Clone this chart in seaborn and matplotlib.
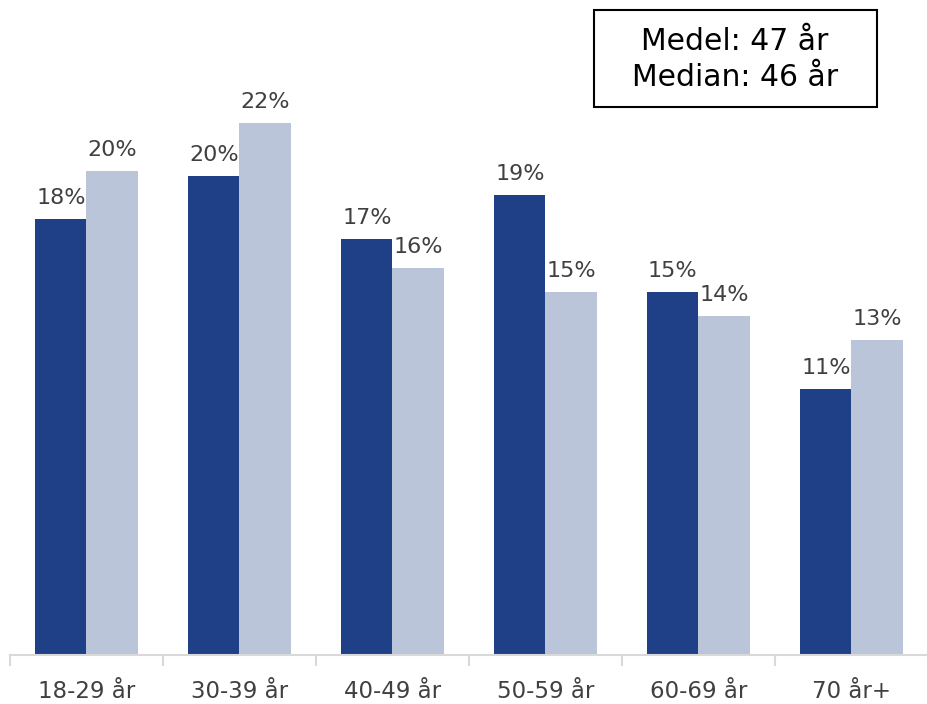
import matplotlib
matplotlib.use("Agg")
import matplotlib.pyplot as plt
from matplotlib.patches import Rectangle
import pandas as pd
import seaborn as sns

# Data
age_groups = ["18-29 år", "30-39 år", "40-49 år", "50-59 år", "60-69 år", "70 år+"]
series_a = [18, 19.8, 17.2, 19, 15, 11]
series_b = [20, 22, 16, 15, 14, 13]
series_names = ["A", "B"]
box_lines = ["Medel: 47 år", "Median: 46 år"]

df = pd.DataFrame({
    "age": age_groups * 2,
    "share": series_a + series_b,
    "series": [series_names[0]] * len(age_groups) + [series_names[1]] * len(age_groups),
})

sns.set_style("white")
plt.rcParams["font.family"] = ["DejaVu Sans"]

text_col = "#404040"
fig = plt.figure(figsize=(9.28, 7.04), dpi=100)
ax = fig.add_axes([10 / 928, 49 / 704, 918 / 928, 655 / 704])

sns.barplot(
    data=df, x="age", y="share", hue="series",
    palette=["#1F3F87", "#BAC5DA"], width=0.67, saturation=1,
    linewidth=0, legend=False, ax=ax,
)

for cont in ax.containers:
    ax.bar_label(cont, labels=[f"{v:.0f}%" for v in cont.datavalues],
                 padding=8, fontsize=16, color=text_col)

ax.set_xlim(-0.5, 5.44)
ax.set_ylim(0, 27.07)
ax.set_xlabel("")
ax.set_ylabel("")
ax.set_yticks([])
for s in ["top", "right", "left"]:
    ax.spines[s].set_visible(False)
ax.spines["bottom"].set_color("#D9D9D9")
ax.spines["bottom"].set_linewidth(1.5)

# category labels, tick marks at category boundaries
ax.set_xticks(range(len(age_groups)))
ax.set_xticklabels(age_groups, fontsize=16.5, color=text_col)
ax.tick_params(axis="x", which="major", length=0, pad=18)
ax.set_xticks([i - 0.5 for i in range(len(age_groups) + 1)], minor=True)
ax.tick_params(axis="x", which="minor", bottom=True, length=8, width=1.5,
               color="#D9D9D9", direction="out")

# summary box
fig.patches.append(Rectangle((594 / 928, 1 - 107 / 704), 283 / 928, 97 / 704,
                             transform=fig.transFigure, fill=False,
                             edgecolor="black", linewidth=1.5))
fig.text(735 / 928, 1 - 42 / 704, box_lines[0], ha="center", va="center", fontsize=21.5, color="black")
fig.text(735 / 928, 1 - 77 / 704, box_lines[1], ha="center", va="center", fontsize=21.5, color="black")

fig.savefig("out.png", dpi=100)
